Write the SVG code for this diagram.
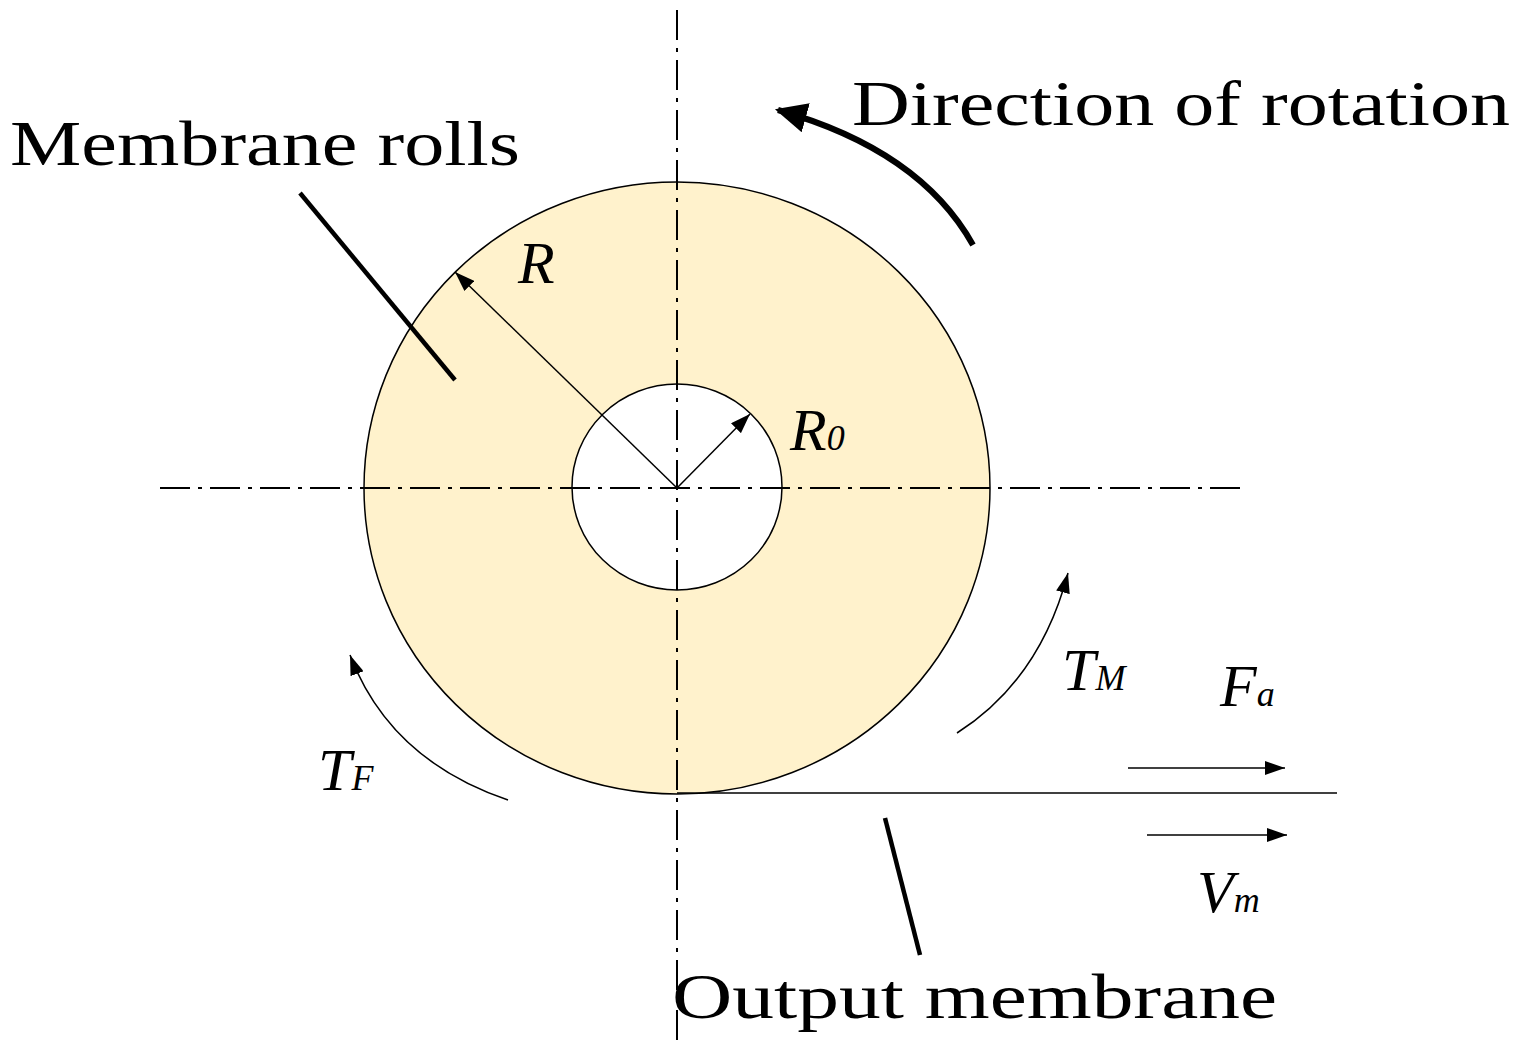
<svg xmlns="http://www.w3.org/2000/svg" width="1522" height="1048" viewBox="0 0 1522 1048">
<style>
.t{font-family:"Liberation Serif",serif;font-size:64px;fill:#000}
.i{font-family:"Liberation Serif",serif;font-style:italic;font-size:60px;fill:#000}
.s{font-size:36px}
.ln{stroke:#000;fill:none}
.cl{stroke:#000;fill:none;stroke-width:2;stroke-dasharray:30 8 4 8}
</style>
<defs>
<marker id="a" viewBox="0 0 10 10" refX="10" refY="5" markerWidth="20" markerHeight="14" markerUnits="userSpaceOnUse" orient="auto" preserveAspectRatio="none"><path d="M0,0L10,5L0,10z" fill="#000"/></marker>
<marker id="ab" viewBox="0 0 10 10" refX="9" refY="5" markerWidth="32" markerHeight="30" markerUnits="userSpaceOnUse" orient="auto" preserveAspectRatio="none"><path d="M0,0L10,5L0,10z" fill="#000"/></marker>
</defs>
<g id="roll">
<ellipse cx="677" cy="488" rx="313" ry="306" fill="#FFF2CC" stroke="#000" stroke-width="1.5"/>
<ellipse cx="677" cy="487" rx="105" ry="103" fill="#fff" stroke="#000" stroke-width="1.5"/>
</g>
<g id="connectors">
<line class="cl" x1="677" y1="10" x2="677" y2="1040"/>
<line class="cl" x1="160" y1="488" x2="1240" y2="488"/>
<line class="ln" style="stroke-width:1.5" x1="677" y1="488" x2="455" y2="272" marker-end="url(#a)"/>
<line class="ln" style="stroke-width:1.5" x1="677" y1="488" x2="750" y2="414" marker-end="url(#a)"/>
<line class="ln" style="stroke-width:1.5" x1="677" y1="793" x2="1337" y2="793"/>
<line class="ln" style="stroke-width:4.5" x1="300" y1="193" x2="455" y2="380"/>
<line class="ln" style="stroke-width:4.5" x1="885" y1="818" x2="920" y2="955"/>
<path class="ln" style="stroke-width:6" d="M973,245 Q920,150 778,110" marker-end="url(#ab)"/>
<path class="ln" style="stroke-width:1.5" d="M508,800 Q390,760 350,655" marker-end="url(#a)"/>
<path class="ln" style="stroke-width:1.5" d="M957,733 Q1040,680 1068,573" marker-end="url(#a)"/>
<line class="ln" style="stroke-width:1.5" x1="1128" y1="768" x2="1285" y2="768" marker-end="url(#a)"/>
<line class="ln" style="stroke-width:1.5" x1="1147" y1="835" x2="1287" y2="835" marker-end="url(#a)"/>
</g>
<g id="labels">
<text class="t" x="852" y="125" textLength="658" lengthAdjust="spacingAndGlyphs">Direction of rotation</text>
<text class="t" x="10" y="165" textLength="510" lengthAdjust="spacingAndGlyphs">Membrane rolls</text>
<text class="t" x="672" y="1018" textLength="605" lengthAdjust="spacingAndGlyphs">Output membrane</text>
<text class="i" x="518" y="283">R</text>
<text class="i" x="790" y="450">R<tspan class="s">0</tspan></text>
<text class="i" x="1062" y="690">T<tspan class="s">M</tspan></text>
<text class="i" x="1220" y="706">F<tspan class="s">a</tspan></text>
<text class="i" x="318" y="790">T<tspan class="s">F</tspan></text>
<text class="i" x="1197" y="912">V<tspan class="s" font-size="44">m</tspan></text>
</g>
</svg>
